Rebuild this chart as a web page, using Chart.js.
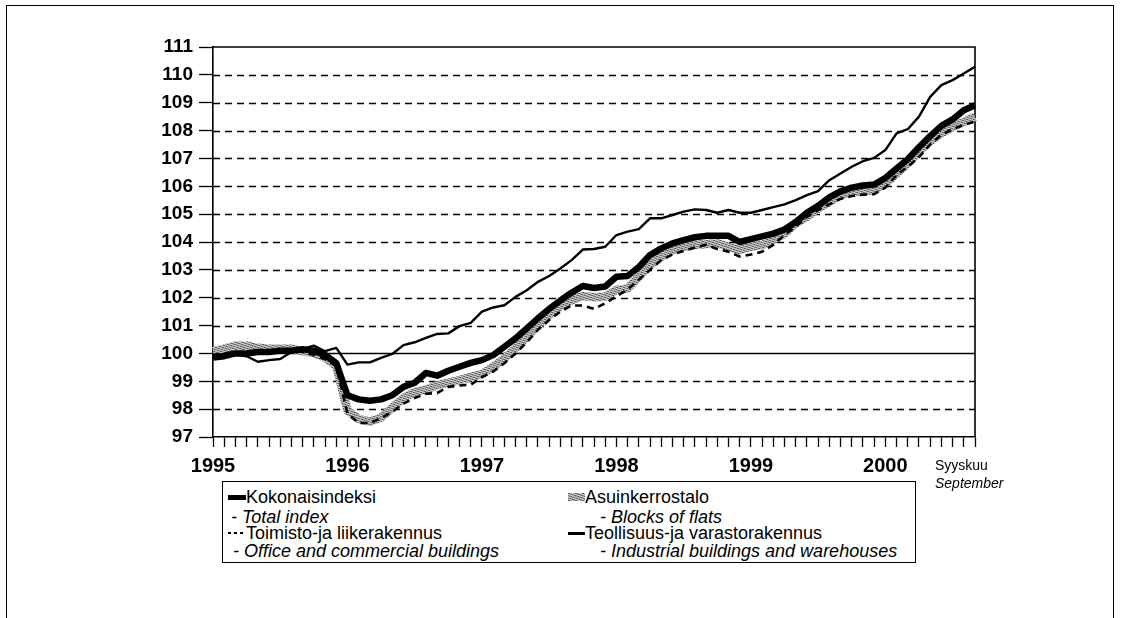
<!DOCTYPE html>
<html>
<head>
<meta charset="utf-8">
<script src="https://cdn.jsdelivr.net/npm/chart.js@4.4.1/dist/chart.umd.min.js"></script>
<style>
html,body{margin:0;padding:0;background:#fff;}
#wrap{position:relative;width:1124px;height:618px;overflow:hidden;background:#fff;font-family:"Liberation Sans",Arial,Helvetica,sans-serif;color:#000;}
#c{position:absolute;left:0;top:0;}
#frame{position:absolute;left:6px;top:5px;width:1108px;height:720px;border:1.5px solid #000;box-sizing:border-box;}
#legend{position:absolute;left:222px;top:481px;width:694px;height:82px;border:1.5px solid #000;box-sizing:border-box;background:#fff;}
.lt{position:absolute;font-size:18px;line-height:20px;white-space:nowrap;}
.it{font-style:italic;}
.sw{position:absolute;}
#note{position:absolute;left:935px;top:456px;font-size:14px;line-height:18px;}
</style>
</head>
<body>
<div id="wrap">
  <div id="frame"></div>
  <canvas id="c" width="1124" height="618"></canvas>
  <div id="legend">
    <div class="sw" style="left:5px;top:13px;width:18px;height:5px;background:#000;"></div>
    <div class="lt" style="left:23px;top:5px;">Kokonaisindeksi</div>
    <div class="lt it" style="left:3px;top:25px;">&nbsp;- Total index</div>
    <div class="sw" style="left:5px;top:50px;width:18px;height:2px;background:repeating-linear-gradient(90deg,#000 0 3px,transparent 3px 6px);"></div>
    <div class="lt" style="left:23px;top:41px;">Toimisto-ja liikerakennus</div>
    <div class="lt it" style="left:5px;top:59px;">&nbsp;- Office and commercial buildings</div>
    <canvas id="swg" class="sw" width="17" height="8" style="left:345px;top:11px;"></canvas>
    <div class="lt" style="left:362px;top:5px;">Asuinkerrostalo</div>
    <div class="lt it" style="left:372px;top:25px;">&nbsp;- Blocks of flats</div>
    <div class="sw" style="left:345px;top:50px;width:17px;height:2.5px;background:#000;"></div>
    <div class="lt" style="left:362px;top:41px;">Teollisuus-ja varastorakennus</div>
    <div class="lt it" style="left:372px;top:59px;">&nbsp;- Industrial buildings and warehouses</div>
  </div>
  <div id="note">Syyskuu<br><span class="it">September</span></div>
</div>
<script>
// ---- data ----
const years = ['1995','1996','1997','1998','1999','2000'];
const monthCount = 69; // Jan 1995 ... Sep 2000
const yTickValues = [97,98,99,100,101,102,103,104,105,106,107,108,109,110,111];

const totalIndex = [
  99.85, 99.9, 100.0, 100.0, 100.05, 100.05, 100.1, 100.1, 100.15, 100.1, 99.95, 99.65,
  98.5, 98.35, 98.3, 98.35, 98.5, 98.8, 98.95, 99.3, 99.2, 99.38, 99.52, 99.66,
  99.76, 99.94, 100.24, 100.54, 100.9, 101.26, 101.6, 101.9, 102.18, 102.42, 102.35, 102.4,
  102.75, 102.78, 103.1, 103.53, 103.77, 103.95, 104.07, 104.17, 104.22, 104.22, 104.22, 104.0,
  104.1, 104.2, 104.3, 104.45, 104.72, 105.05, 105.3, 105.6, 105.82, 105.95, 106.03, 106.06,
  106.3, 106.64, 106.97, 107.4, 107.8, 108.17, 108.4, 108.73, 108.91
];
const blocksOfFlats = [
  100.08, 100.17, 100.28, 100.28, 100.2, 100.17, 100.17, 100.17, 100.08, 100.0, 99.85, 99.55,
  97.95, 97.65, 97.55, 97.7, 98.05, 98.4, 98.62, 98.7, 98.86, 98.95, 99.04, 99.16,
  99.26, 99.52, 99.82, 100.18, 100.6, 101.02, 101.38, 101.7, 101.91, 102.06, 102.02, 102.04,
  102.28, 102.33, 102.75, 103.17, 103.47, 103.71, 103.83, 103.89, 103.93, 103.95, 103.83, 103.71,
  103.83, 103.89, 104.07, 104.3, 104.67, 104.9, 105.2, 105.44, 105.68, 105.78, 105.83, 105.86,
  106.1, 106.46, 106.82, 107.24, 107.62, 107.9, 108.13, 108.31, 108.5
];
const officeCommercial = [
  99.95, 100.0, 100.05, 100.05, 100.05, 100.05, 100.08, 100.1, 100.05, 99.95, 99.8, 99.55,
  97.85, 97.5, 97.5, 97.68, 97.9, 98.2, 98.4, 98.55, 98.58, 98.8, 98.85, 98.88,
  99.15, 99.35, 99.65, 100.0, 100.4, 100.85, 101.2, 101.5, 101.72, 101.72, 101.6, 101.8,
  102.05, 102.3, 102.65, 103.0, 103.35, 103.55, 103.68, 103.8, 103.9, 103.75, 103.65, 103.48,
  103.55, 103.65, 103.9, 104.25, 104.55, 104.9, 105.15, 105.35, 105.55, 105.65, 105.7, 105.72,
  105.95, 106.4, 106.7, 107.05, 107.5, 107.85, 108.05, 108.2, 108.32
];
const industrialWarehouses = [
  99.9, 99.96, 99.96, 99.9, 99.7, 99.76, 99.8, 100.05, 100.15, 100.28, 100.08, 100.2,
  99.6, 99.68, 99.68, 99.84, 99.98, 100.3, 100.4, 100.56, 100.7, 100.72, 100.98, 101.1,
  101.5, 101.65, 101.73, 102.03, 102.27, 102.57, 102.78, 103.05, 103.35, 103.73, 103.75, 103.83,
  104.25, 104.37, 104.46, 104.85, 104.85, 104.97, 105.09, 105.17, 105.15, 105.05, 105.15, 105.05,
  105.05, 105.15, 105.25, 105.35, 105.5, 105.68, 105.83, 106.22, 106.46, 106.7, 106.9, 107.02,
  107.3, 107.9, 108.05, 108.5, 109.21, 109.63, 109.81, 110.05, 110.29
];

const months = [];
years.forEach(y => { for (let m = 1; m <= 12; m++) months.push(y + '-' + String(m).padStart(2,'0')); });
months.length = monthCount;

// ---- textured grey ----
function paintTexture(g, w, h){
  g.fillStyle = '#acacac'; g.fillRect(0,0,w,h);
  for (let y=0;y<h;y++) for (let x=0;x<w;x++){
    const k = (x*3 + y*5) % 7;
    if (k===0 || k===3) { g.fillStyle='#606060'; g.fillRect(x,y,1,1); }
    else if (k===5) { g.fillStyle='#dedede'; g.fillRect(x,y,1,1); }
  }
}
const tile = document.createElement('canvas'); tile.width = 7; tile.height = 7;
paintTexture(tile.getContext('2d'), 7, 7);
const ctx = document.getElementById('c').getContext('2d');
const greyPattern = ctx.createPattern(tile, 'repeat');
const sw = document.getElementById('swg').getContext('2d');
paintTexture(sw, 17, 8);

const FONT = '"Liberation Sans", Arial, Helvetica, sans-serif';
Chart.defaults.font.family = FONT;
Chart.defaults.color = '#000';

const gridFrame = {
  id: 'gridFrame',
  beforeDatasetsDraw(chart){
    const {ctx, chartArea: a, scales: {y}} = chart;
    ctx.save();
    ctx.strokeStyle = '#000';
    yTickValues.forEach(v => {
      if (v === yTickValues[0] || v === yTickValues[yTickValues.length-1]) return;
      const py = Math.round(y.getPixelForValue(v)) + 0.5;
      ctx.lineWidth = 1.4;
      ctx.setLineDash(v === 100 ? [] : [7,5]);
      ctx.beginPath(); ctx.moveTo(a.left, py); ctx.lineTo(a.right, py); ctx.stroke();
    });
    ctx.setLineDash([]);
    ctx.lineWidth = 1.6;
    ctx.beginPath();
    ctx.moveTo(a.left, a.top); ctx.lineTo(a.right, a.top); ctx.lineTo(a.right, a.bottom);
    ctx.stroke();
    ctx.restore();
  }
};

new Chart(ctx, {
  type: 'line',
  data: {
    labels: months,
    datasets: [
      {label:'Asuinkerrostalo', data:blocksOfFlats, borderColor:greyPattern, borderWidth:8.5, order:4},
      {label:'Toimisto-ja liikerakennus', data:officeCommercial, borderColor:'#000', borderWidth:2.6, borderDash:[7,5], order:3},
      {label:'Teollisuus-ja varastorakennus', data:industrialWarehouses, borderColor:'#000', borderWidth:2.4, order:2},
      {label:'Kokonaisindeksi', data:totalIndex, borderColor:'#000', borderWidth:6.5, order:1}
    ]
  },
  options: {
    responsive: false,
    animation: false,
    events: [],
    elements: {point:{radius:0}, line:{tension:0, borderJoinStyle:'round', borderCapStyle:'butt', fill:false}},
    layout: {padding:{left:0, top:47, right:149, bottom:0}},
    plugins: {legend:{display:false}, tooltip:{enabled:false}},
    scales: {
      x: {
        type: 'category',
        offset: false,
        afterFit(s){ s.height = 181; },
        grid: {drawOnChartArea:false, drawTicks:true, tickLength:10, tickColor:'#000', tickWidth:1.3, offset:false},
        border: {display:true, color:'#000', width:1.6},
        ticks: {
          autoSkip:false, maxRotation:0, minRotation:0, padding:7, color:'#000',
          font:{family:FONT, size:20, weight:'bold'},
          callback:(v, i) => (i % 12 === 0 ? years[i/12] : '')
        }
      },
      y: {
        min: 97, max: 111,
        afterFit(s){ s.width = 213; },
        afterBuildTicks(s){ s.ticks = yTickValues.map(v => ({value:v})); },
        grid: {drawOnChartArea:false, drawTicks:true, tickLength:14, tickColor:'#000', tickWidth:1.3},
        border: {display:true, color:'#000', width:1.6},
        ticks: {padding:6, color:'#000', font:{family:FONT, size:19, weight:'bold'}}
      }
    }
  },
  plugins: [gridFrame]
});
</script>
</body>
</html>
